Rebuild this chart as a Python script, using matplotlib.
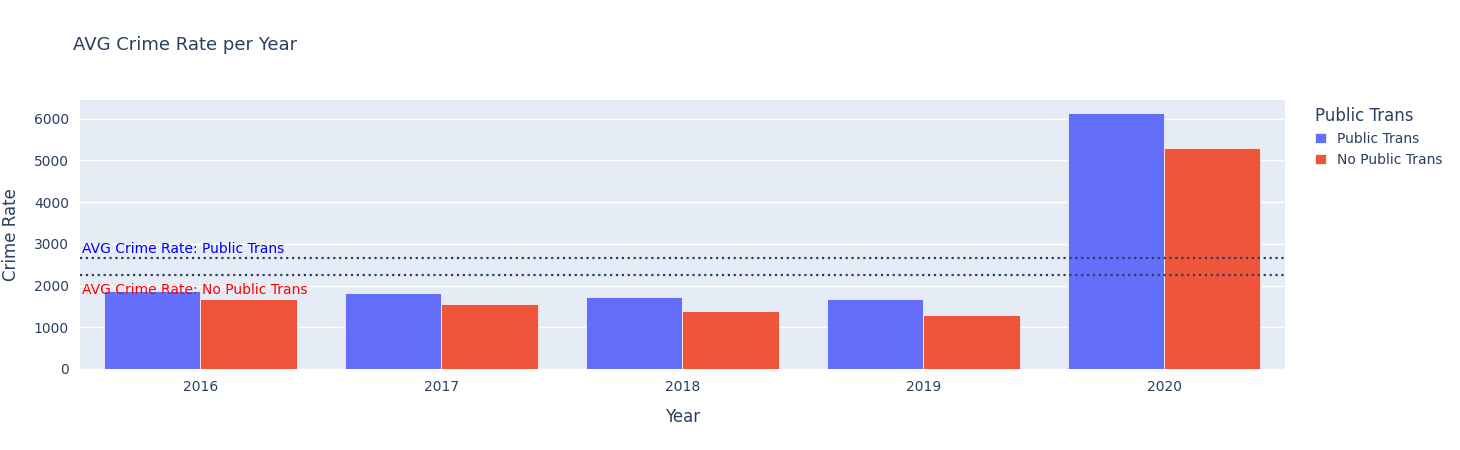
import matplotlib.pyplot as plt
import numpy as np

years = ["2016", "2017", "2018", "2019", "2020"]
public_trans = [1880, 1830, 1730, 1680, 6140]
no_public_trans = [1680, 1560, 1400, 1300, 5290]

avg_public = np.mean(public_trans)
avg_no_public = np.mean(no_public_trans)

fig = plt.figure(figsize=(14.6, 4.5), dpi=100)
ax = fig.add_axes([0.0548, 0.18, 0.825, 0.598])
ax.set_facecolor('#e5ecf6')

x = np.arange(len(years))
w = 0.4
ax.bar(x - w / 2, public_trans, w, color='#636efa', label='Public Trans', edgecolor='white', linewidth=0.5)
ax.bar(x + w / 2, no_public_trans, w, color='#ef553b', label='No Public Trans', edgecolor='white', linewidth=0.5)

ax.axhline(avg_public, color='#2a3f5f', linestyle=':', linewidth=1.6)
ax.axhline(avg_no_public, color='#2a3f5f', linestyle=':', linewidth=1.6)
ax.text(-0.49, avg_public + 60, "AVG Crime Rate: Public Trans", color='blue', fontsize=10, va='bottom')
ax.text(-0.49, avg_no_public - 180, "AVG Crime Rate: No Public Trans", color='red', fontsize=10, va='top')

ax.set_xlim(-0.5, 4.5)
ax.set_ylim(0, 6450)
ax.set_xticks(x)
ax.set_xticklabels(years)
ax.set_yticks([0, 1000, 2000, 3000, 4000, 5000, 6000])
ax.grid(axis='y', color='white', linewidth=1)
ax.set_axisbelow(True)
for s in ax.spines.values():
    s.set_visible(False)
ax.tick_params(length=0, labelsize=10, colors='#2a3f5f', pad=8)
ax.set_xlabel("Year", fontsize=12, color='#2a3f5f', labelpad=10)
ax.set_ylabel("Crime Rate", fontsize=12, color='#2a3f5f', labelpad=10)

fig.text(0.05, 0.89, "AVG Crime Rate per Year", fontsize=13, color='#2a3f5f')
leg = ax.legend(title="Public Trans", loc='upper left', bbox_to_anchor=(1.015, 1.02),
                frameon=False, fontsize=10, title_fontsize=12, handlelength=0.8, handleheight=0.8)
leg._legend_box.align = 'left'
for t in leg.get_texts():
    t.set_color('#2a3f5f')
leg.get_title().set_color('#2a3f5f')

fig.savefig("out.png", dpi=100)
